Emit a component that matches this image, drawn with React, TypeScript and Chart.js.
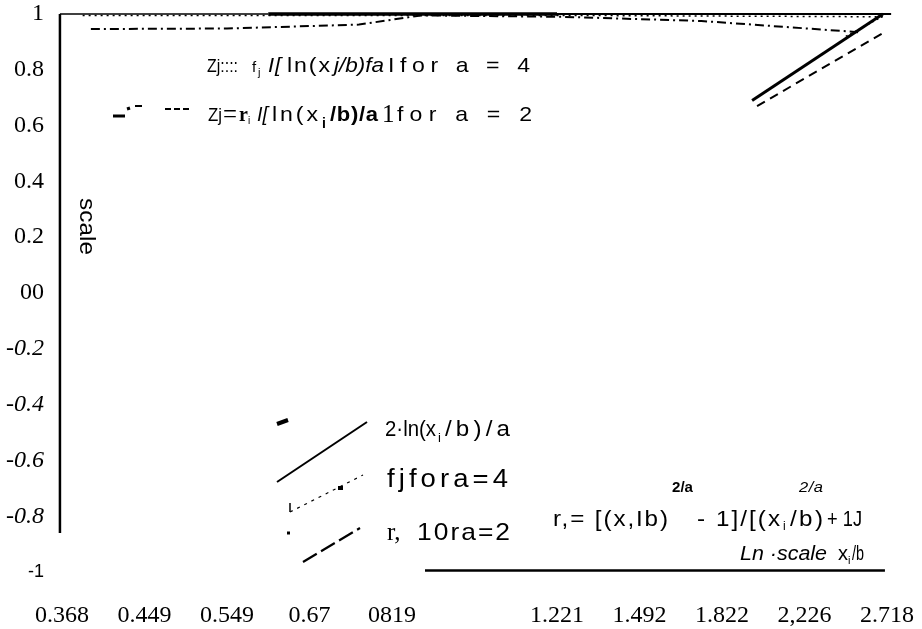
import React, { useEffect, useRef } from "react";
import { Chart, registerables } from "chart.js";

Chart.register(...registerables);

// ---- tick values / labels (x axis is ln(x_i/b), labels are x_i/b) ----
const xTickValues = [-1, -0.8, -0.6, -0.4, -0.2, 0, 0.2, 0.4, 0.6, 0.8, 1];
const xTickLabels = ["0.368", "0.449", "0.549", "0.67", "0819", "", "1.221", "1.492", "1.822", "2,226", "2.718"];
const yTickValues = [1, 0.8, 0.6, 0.4, 0.2, 0, -0.2, -0.4, -0.6, -0.8, -1];
const yTickLabels = ["1", "0.8", "0.6", "0.4", "0.2", "00", "-0.2", "-0.4", "-0.6", "-0.8", "-1"];

// ---- surviving curve fragments (x = ln(x_i/b), y = value) ----
const topThinX = [-1.005, -0.5];
const topThinY = [1, 1];
const topThickX = [-0.5, 0.2];
const topThickY = [1, 1];
const topRightX = [0.2, 1.01];
const topRightY = [1, 1];
const dottedTopX = [-0.95, 0.21, 0.99];
const dottedTopY = [0.995, 0.995, 0.99];
const dashDotTopX = [-0.93, -0.6, -0.28, -0.13, 0.21, 0.55, 0.93];
const dashDotTopY = [0.946, 0.948, 0.962, 0.995, 0.99, 0.975, 0.935];
const solidDiagX = [0.673, 0.99];
const solidDiagY = [0.69, 1.0];
const dottedDiagX = [0.9, 0.995];
const dottedDiagY = [0.92, 0.995];
const dashedDiagX = [0.685, 0.988];
const dashedDiagY = [0.67, 0.93];
const xAxisLineX = [-0.12, 0.995];
const xAxisLineY = [-0.995, -0.995];
const yAxisLineX = [-1.005, -1.005];
const yAxisLineY = [1.0, -0.86];

const pts = (xs: number[], ys: number[]) => xs.map((x, i) => ({ x, y: ys[i] }));

const SANS = '"Liberation Sans", Arial, sans-serif';
const SERIF = '"Liberation Serif", "Times New Roman", serif';

// text pieces: x1..x2 = horizontal span (or length for rotated), y = baseline
type T = { t: string; x1: number; x2?: number; y: number; f: string; rot?: number };

const texts: T[] = [
  // row 1
  { t: "Zj::::", x1: 207, x2: 238, y: 72, f: `19px ${SANS}` },
  { t: "f", x1: 252, y: 72, f: `15px ${SANS}` },
  { t: "j", x1: 258, y: 76, f: `11px ${SANS}` },
  { t: "I[", x1: 268, x2: 281, y: 72, f: `italic 20px ${SANS}` },
  { t: "ln(x", x1: 287, x2: 330, y: 72, f: `21px ${SANS}` },
  { t: "j/b)fa", x1: 334, x2: 384, y: 72, f: `italic 21px ${SANS}` },
  { t: "Ifor a = 4", x1: 388, x2: 530, y: 72, f: `21px ${SANS}` },
  // row 2
  { t: "Zj", x1: 208, x2: 222, y: 121, f: `19px ${SANS}` },
  { t: "=", x1: 223, x2: 237, y: 123, f: `28px ${SERIF}` },
  { t: "r", x1: 239, y: 121, f: `bold 20px ${SERIF}` },
  { t: "i", x1: 248, y: 124, f: `10px ${SANS}` },
  { t: "I[", x1: 257, x2: 268, y: 121, f: `italic 20px ${SANS}` },
  { t: "ln(x", x1: 272, x2: 318, y: 121, f: `21px ${SANS}` },
  { t: "i", x1: 322, y: 128, f: `bold 14px ${SANS}` },
  { t: "/b)/a", x1: 330, x2: 378, y: 121, f: `bold 20px ${SANS}` },
  { t: "1", x1: 382, y: 122, f: `25px ${SERIF}` },
  { t: "for a = 2", x1: 397, x2: 532, y: 121, f: `21px ${SANS}` },
  // rotated axis label
  { t: "scale", x1: 80, x2: 57, y: 198, f: `22px ${SANS}`, rot: Math.PI / 2 },
  // bottom legend
  { t: "2·ln(x", x1: 385, x2: 436, y: 436, f: `22px ${SANS}` },
  { t: "i", x1: 438, y: 442, f: `13px ${SANS}` },
  { t: "/b)/a", x1: 445, x2: 510, y: 436, f: `22px ${SANS}` },
  { t: "fjfora=4", x1: 387, x2: 508, y: 487, f: `25px ${SANS}` },
  { t: "r,", x1: 387, y: 540, f: `25px ${SERIF}` },
  { t: "10ra=2", x1: 417, x2: 510, y: 540, f: `24px ${SANS}` },
  // formula
  { t: "r,= [(x,Ib)", x1: 553, x2: 668, y: 526, f: `22px ${SANS}` },
  { t: "2/a", x1: 672, x2: 693, y: 492, f: `bold 15px ${SANS}` },
  { t: "- 1]/[(x", x1: 697, x2: 780, y: 526, f: `22px ${SANS}` },
  { t: "i", x1: 783, y: 530, f: `12px ${SANS}` },
  { t: "/b)", x1: 790, x2: 823, y: 526, f: `22px ${SANS}` },
  { t: "2/a", x1: 799, x2: 823, y: 492, f: `italic 15px ${SANS}` },
  { t: "+ 1J", x1: 827, x2: 862, y: 526, f: `22px ${SANS}` },
  // x-axis caption
  { t: "Ln ·scale", x1: 740, x2: 827, y: 560, f: `italic 20px ${SANS}` },
  { t: "x", x1: 838, y: 560, f: `20px ${SANS}` },
  { t: "i", x1: 848, y: 564, f: `11px ${SANS}` },
  { t: "/b", x1: 852, x2: 864, y: 560, f: `20px ${SANS}` },
];

type Seg = { pts: number[]; w: number; dash?: number[] };
const marks: Seg[] = [
  // top-left legend sample
  { pts: [113, 116, 125, 116], w: 3 },
  { pts: [127, 109, 130, 108], w: 3 },
  { pts: [135, 106, 142, 106], w: 2 },
  { pts: [165, 109, 190, 109], w: 2, dash: [6, 3] },
  // bottom legend samples
  { pts: [277, 424, 288, 420], w: 4 },
  { pts: [277, 482, 367, 422], w: 2 },
  { pts: [290, 512, 363, 475], w: 1.2, dash: [3, 5] },
  { pts: [290, 503, 290, 512], w: 1.5 },
  { pts: [338, 488, 343, 488], w: 4 },
  { pts: [303, 562, 360, 528], w: 2.2, dash: [16, 5] },
  { pts: [287, 533, 290, 533], w: 3 },
];

const annotate = {
  id: "annotate",
  afterDraw(chart: any) {
    const ctx: CanvasRenderingContext2D = chart.ctx;
    ctx.save();
    ctx.fillStyle = "#000";
    ctx.strokeStyle = "#000";
    ctx.textBaseline = "alphabetic";
    ctx.textAlign = "left";
    for (const m of marks) {
      ctx.beginPath();
      ctx.lineWidth = m.w;
      ctx.setLineDash(m.dash || []);
      ctx.moveTo(m.pts[0], m.pts[1]);
      ctx.lineTo(m.pts[2], m.pts[3]);
      ctx.stroke();
    }
    ctx.setLineDash([]);
    for (const t of texts) {
      ctx.save();
      ctx.font = t.f;
      (ctx as any).letterSpacing = "0px";
      const natural = ctx.measureText(t.t).width || 1;
      const target = t.x2 === undefined ? natural : t.rot ? t.x2 : t.x2 - t.x1;
      const n = Math.max(1, t.t.length - 1);
      let sx = 1;
      let ls = 0;
      if (target >= natural) {
        sx = Math.min(1.1, target / natural);
        ls = (target - natural * sx) / n / sx;
      } else {
        sx = target / natural;
      }
      (ctx as any).letterSpacing = `${ls}px`;
      ctx.translate(t.x1, t.y);
      if (t.rot) ctx.rotate(t.rot);
      ctx.scale(sx, 1);
      ctx.fillText(t.t, 0, 0);
      ctx.restore();
    }
    ctx.restore();
  },
};

export default function App() {
  const ref = useRef<HTMLCanvasElement | null>(null);
  useEffect(() => {
    if (!ref.current) return;
    const line = (data: any[], w: number, dash: number[] = [], color = "#000") => ({
      data,
      borderColor: color,
      backgroundColor: color,
      borderWidth: w,
      borderDash: dash,
      pointRadius: 0,
      fill: false,
      tension: 0,
      clip: false as any,
    });
    const chart = new Chart(ref.current, {
      type: "line",
      data: {
        datasets: [
          line(pts(topThinX, topThinY), 1.5),
          line(pts(topThickX, topThickY), 3.5),
          line(pts(topRightX, topRightY), 2),
          line(pts(dottedTopX, dottedTopY), 1.5, [2, 4]),
          line(pts(dashDotTopX, dashDotTopY), 2, [9, 4, 2, 4]),
          line(pts(solidDiagX, solidDiagY), 3),
          line(pts(dottedDiagX, dottedDiagY), 1.2, [2, 3]),
          line(pts(dashedDiagX, dashedDiagY), 2, [9, 6]),
          line(pts(xAxisLineX, xAxisLineY), 2.5),
          line(pts(yAxisLineX, yAxisLineY), 2.5),
        ],
      },
      options: {
        animation: false,
        responsive: false,
        layout: { padding: { left: 0, right: 35, top: 0, bottom: 0 } },
        plugins: { legend: { display: false }, tooltip: { enabled: false } },
        scales: {
          x: {
            type: "linear",
            min: -1,
            max: 1,
            grid: { display: false, drawTicks: false },
            border: { display: false },
            afterBuildTicks: (s: any) => {
              s.ticks = xTickValues.map((v) => ({ value: v }));
            },
            afterFit: (s: any) => {
              s.height = 57;
              s.paddingLeft = 0;
              s.paddingRight = 0;
            },
            ticks: {
              padding: 29,
              maxRotation: 0,
              autoSkip: false,
              color: "#000",
              font: { family: SERIF, size: 24 },
              callback: (v: any) => xTickLabels[xTickValues.indexOf(Number(v))] ?? "",
            },
          },
          y: {
            type: "linear",
            min: -1,
            max: 1,
            grid: { display: false, drawTicks: false },
            border: { display: false },
            afterBuildTicks: (s: any) => {
              s.ticks = yTickValues.map((v) => ({ value: v }));
            },
            afterFit: (s: any) => {
              s.width = 62;
              s.paddingTop = 14;
              s.paddingBottom = 0;
            },
            ticks: {
              padding: 18,
              autoSkip: false,
              color: "#000",
              font: (c: any) => {
                const v = c.tick ? c.tick.value : 0;
                if (v === -1) return { family: SANS, size: 18 };
                if (v < 0) return { family: SERIF, size: 24, style: "italic" };
                return { family: SERIF, size: 24 };
              },
              callback: (v: any) => {
                const i = yTickValues.findIndex((t) => Math.abs(t - Number(v)) < 1e-9);
                return i >= 0 ? yTickLabels[i] : "";
              },
            },
          },
        },
      },
      plugins: [annotate],
    });
    return () => chart.destroy();
  }, []);
  return (
    <div style={{ position: "fixed", left: 0, top: 0, width: 922, height: 629, background: "#fff" }}>
      <canvas ref={ref} width={922} height={629} style={{ display: "block" }} />
    </div>
  );
}
